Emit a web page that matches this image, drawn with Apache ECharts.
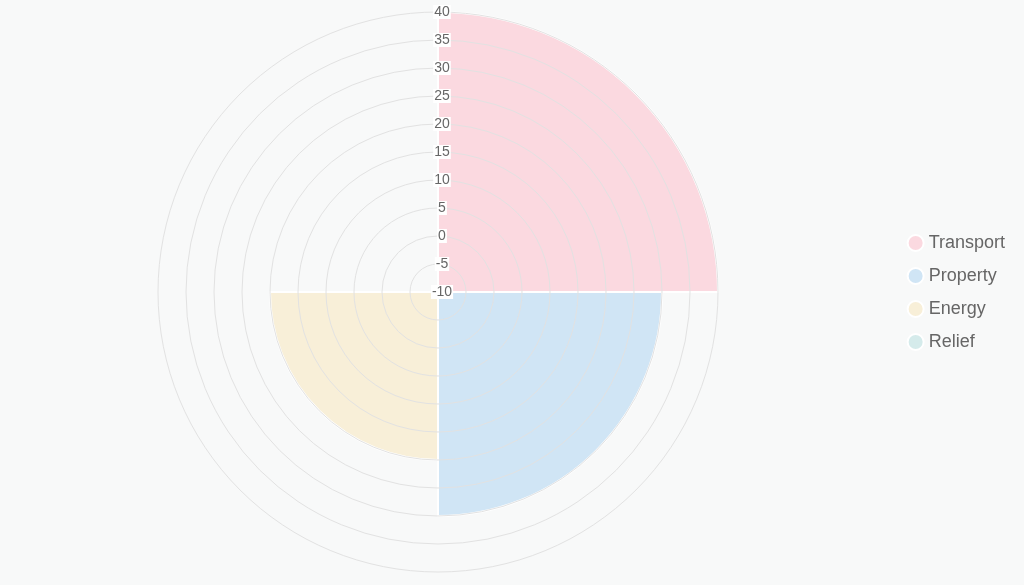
<!DOCTYPE html><html><head><meta charset="utf-8"><script src="https://cdn.jsdelivr.net/npm/echarts@6/dist/echarts.min.js"></script>
<style>html,body{margin:0;background:#f8f9f9}#c{width:1024px;height:585px}</style></head><body><div id="c"></div><script>
const categories=['Transport','Property','Energy','Relief'];
const values=[40,30,20,-10];
const colors=['#fbd9e0','#d0e5f5','#f8efd8','#d5ebeb'];
const rMin=-10,rMax=40;
const ch=echarts.init(document.getElementById('c'));
ch.setOption({
backgroundColor:'#f8f9f9',
polar:{center:[438,292],radius:280},
angleAxis:{type:'category',data:categories,startAngle:90,axisLine:{show:false},axisTick:{show:false},axisLabel:{show:false},splitLine:{show:false}},
radiusAxis:{min:0,max:rMax-rMin,interval:5,axisLine:{show:false},axisTick:{show:false},z:10,
 axisLabel:{formatter:v=>String(v+rMin),color:'#666',fontSize:14,backgroundColor:'#fff',padding:[0,1],margin:-4,align:'center',verticalAlign:'middle'},
 splitLine:{lineStyle:{color:'#e2e2e2'}}},
legend:{orient:'vertical',right:14,top:'middle',icon:'circle',itemWidth:16,itemHeight:16,itemGap:15,textStyle:{fontSize:18,color:'#666'},data:categories},
series:categories.map((n,i)=>({name:n,type:'bar',coordinateSystem:'polar',barGap:'-100%',barCategoryGap:'0%',
 itemStyle:{color:colors[i],borderColor:'#fff',borderWidth:2},
 data:categories.map((_,j)=>j===i?values[i]-rMin:null)}))
});
</script></body></html>
